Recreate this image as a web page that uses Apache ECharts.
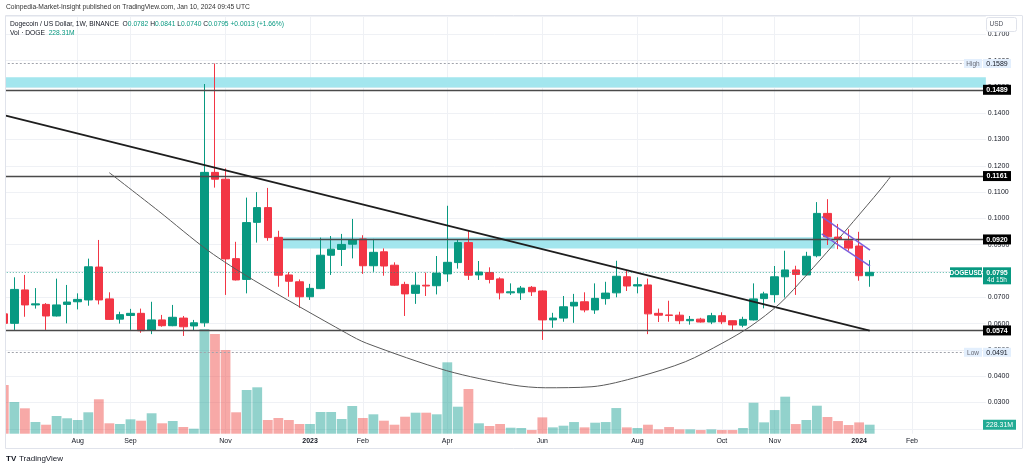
<!DOCTYPE html>
<html><head><meta charset="utf-8">
<script src="https://cdn.jsdelivr.net/npm/echarts@6/dist/echarts.min.js"></script>
<style>html,body{margin:0;padding:0;background:#fff}#c{width:1024px;height:469px}</style>
</head><body><div id="c"></div>
<script>
// ---------- DATA ----------
const weeks = ['2022-06-13','2022-06-20','2022-06-27','2022-07-04','2022-07-11','2022-07-18','2022-07-25','2022-08-01','2022-08-08','2022-08-15','2022-08-22','2022-08-29','2022-09-05','2022-09-12','2022-09-19','2022-09-26','2022-10-03','2022-10-10','2022-10-17','2022-10-24','2022-10-31','2022-11-07','2022-11-14','2022-11-21','2022-11-28','2022-12-05','2022-12-12','2022-12-19','2022-12-26','2023-01-02','2023-01-09','2023-01-16','2023-01-23','2023-01-30','2023-02-06','2023-02-13','2023-02-20','2023-02-27','2023-03-06','2023-03-13','2023-03-20','2023-03-27','2023-04-03','2023-04-10','2023-04-17','2023-04-24','2023-05-01','2023-05-08','2023-05-15','2023-05-22','2023-05-29','2023-06-05','2023-06-12','2023-06-19','2023-06-26','2023-07-03','2023-07-10','2023-07-17','2023-07-24','2023-07-31','2023-08-07','2023-08-14','2023-08-21','2023-08-28','2023-09-04','2023-09-11','2023-09-18','2023-09-25','2023-10-02','2023-10-09','2023-10-16','2023-10-23','2023-10-30','2023-11-06','2023-11-13','2023-11-20','2023-11-27','2023-12-04','2023-12-11','2023-12-18','2023-12-25','2024-01-01','2024-01-08','2024-01-15','2024-01-22','2024-01-29','2024-02-05','2024-02-12','2024-02-19','2024-02-26','2024-03-04','2024-03-11','2024-03-18','2024-03-25'];

const opens  = [0.0637,0.0601,0.0728,0.0671,0.0673,0.0629,0.0673,0.0683,0.0690,0.0815,0.0694,0.0617,0.0631,0.0639,0.0576,0.0614,0.0592,0.0621,0.0591,0.0603,0.1175,0.1149,0.0847,0.0768,0.0985,0.1041,0.0928,0.0785,0.0759,0.0702,0.0733,0.0860,0.0882,0.0902,0.0922,0.0820,0.0873,0.0822,0.0749,0.0715,0.0746,0.0744,0.0789,0.0832,0.0908,0.0785,0.0794,0.0770,0.0717,0.0717,0.0738,0.0724,0.0614,0.0621,0.0667,0.0683,0.0652,0.0695,0.0717,0.0778,0.0743,0.0747,0.0639,0.0633,0.0632,0.0611,0.0617,0.0606,0.0630,0.0611,0.0594,0.0614,0.0695,0.0710,0.0778,0.0804,0.0785,0.0858,0.1019,0.0929,0.0915,0.0895,0.0782];
const closes = [0.0601,0.0730,0.0671,0.0675,0.0629,0.0671,0.0682,0.0692,0.0816,0.0690,0.0616,0.0634,0.0639,0.0573,0.0614,0.0592,0.0624,0.0588,0.0603,0.1175,0.1149,0.0846,0.0766,0.0984,0.1041,0.0927,0.0784,0.0761,0.0702,0.0734,0.0860,0.0883,0.0901,0.0919,0.0820,0.0871,0.0819,0.0746,0.0713,0.0746,0.0743,0.0792,0.0833,0.0908,0.0784,0.0796,0.0768,0.0717,0.0721,0.0735,0.0721,0.0614,0.0621,0.0664,0.0681,0.0652,0.0696,0.0716,0.0780,0.0743,0.0748,0.0637,0.0632,0.0631,0.0611,0.0616,0.0606,0.0630,0.0607,0.0595,0.0616,0.0694,0.0713,0.0778,0.0804,0.0787,0.0856,0.1019,0.0930,0.0921,0.0887,0.0782,0.0795];
const lows   = [0.0491,0.0576,0.0626,0.0657,0.0576,0.0627,0.0601,0.0654,0.0668,0.0673,0.0614,0.0600,0.0576,0.0565,0.0560,0.0588,0.0590,0.0553,0.0573,0.0588,0.1117,0.0709,0.0764,0.0715,0.0908,0.0915,0.0740,0.0702,0.0660,0.0690,0.0731,0.0785,0.0819,0.0848,0.0789,0.0797,0.0782,0.0744,0.0629,0.0675,0.0705,0.0711,0.0759,0.0809,0.0766,0.0766,0.0753,0.0692,0.0709,0.0690,0.0705,0.0538,0.0584,0.0607,0.0603,0.0643,0.0637,0.0672,0.0700,0.0724,0.0715,0.0560,0.0606,0.0607,0.0598,0.0596,0.0604,0.0598,0.0598,0.0572,0.0586,0.0612,0.0658,0.0680,0.0699,0.0709,0.0783,0.0852,0.0899,0.0883,0.0877,0.0763,0.0740];
const highs  = [0.0680,0.0776,0.0785,0.0735,0.0678,0.0771,0.0747,0.0715,0.0847,0.0918,0.0719,0.0645,0.0656,0.0657,0.0683,0.0633,0.0671,0.0629,0.0614,0.1511,0.1589,0.1190,0.0911,0.1079,0.1100,0.1116,0.0953,0.0796,0.0768,0.0751,0.0927,0.0933,0.0941,0.0998,0.0936,0.0922,0.0886,0.0833,0.0759,0.0795,0.0794,0.0857,0.1048,0.0918,0.0953,0.0838,0.0814,0.0776,0.0753,0.0743,0.0743,0.0726,0.0641,0.0705,0.0713,0.0719,0.0753,0.0759,0.0839,0.0801,0.0776,0.0771,0.0657,0.0687,0.0645,0.0629,0.0622,0.0641,0.0643,0.0612,0.0626,0.0753,0.0721,0.0819,0.0877,0.0820,0.0873,0.1062,0.1073,0.0979,0.0959,0.0949,0.0841];
// weekly volume, millions of DOGE
const volumes = [1235,804,644,297,228,449,391,348,543,873,264,246,365,330,518,264,322,170,127,2656,2530,2123,543,1109,1177,348,398,348,246,246,551,551,373,703,398,492,330,228,431,533,533,492,1811,685,1134,264,195,246,152,144,93,414,161,203,296,161,279,296,651,161,144,228,110,169,110,110,93,110,93,93,144,786,288,600,939,245,347,710,423,321,220,287,228.31];

const tickDates = ['2022-08-01','2022-09-05','2022-11-07','2023-01-02','2023-02-06','2023-04-03','2023-06-05','2023-08-07','2023-10-02','2023-11-06','2024-01-01','2024-02-05'];
const tickTexts = ['Aug','Sep','Nov','2023','Feb','Apr','Jun','Aug','Oct','Nov','2024','Feb'];

// drawings (week index, price)
const levelLines = [0.1489, 0.1161, 0.0574];
const level092 = 0.0920;
const level092Start = 26.44;
const upperZone = [0.1498, 0.1537];
const midZone = [0.0886, 0.0928];
const midZoneSpan = [26.44, 78.7];
const trendline = [[0, 0.1393], [82, 0.0573]];
const arcPoints = [[9.99,0.1174],[14.63,0.1029],[19.37,0.0877],[23.63,0.0766],[32.47,0.0563],[34.37,0.0525],[41.94,0.0421],[48.13,0.0367],[51.28,0.0356],[55.70,0.0360],[60.12,0.0398],[64.54,0.0455],[68.01,0.0525],[70.66,0.0588],[73.51,0.0677],[76.03,0.0785],[78.55,0.0899],[80.45,0.0988],[82.98,0.1108],[84.02,0.1161]];
const flagUpper = [[77.45,0.10065],[82.03,0.08798]];
const flagLower = [[77.45,0.09407],[82.03,0.08190]];
const lastPrice = 0.0795, rangeHigh = 0.1589, rangeLow = 0.0491, lastVol = 228.31;

// ---------- CHART ----------
const FONT = 'Liberation Sans';
const UP = '#089981', DN = '#f23645';
const tickSet = new Set(tickDates.map(d => weeks.indexOf(d)));
const tickMap = {}; tickDates.forEach((d,i)=>tickMap[d]=tickTexts[i]);
const candleData = opens.map((o,i)=>[o, closes[i], lows[i], highs[i]]);
const volData = volumes.map((v,i)=>({value:v, itemStyle:{color: closes[i]>=opens[i] ? 'rgba(38,166,154,0.5)' : 'rgba(239,83,80,0.5)'}}));
const GRIDL = 3.78, GRIDR = 1024 - (3.78 + 93*10.56);
const CYAN = '#a3e6ee';

const option = {
  animation: false,
  textStyle: {fontFamily: FONT},
  grid: [
    {left: GRIDL, right: GRIDR, top: 16, bottom: 469-428.8, outerBoundsMode: 'none', containLabel: false},
    {left: GRIDL, right: GRIDR, top: 300, bottom: 469-433.7, outerBoundsMode: 'none', containLabel: false}
  ],
  xAxis: [
    {type:'category', gridIndex:0, data: weeks, boundaryGap:false, axisLine:{show:false}, axisTick:{show:false}, axisLabel:{show:false},
     splitLine:{show:true, interval:(i)=>tickSet.has(i), lineStyle:{color:'#eff1f5', width:1}}},
    {type:'category', gridIndex:1, data: weeks, boundaryGap:false, axisLine:{show:false}, axisTick:{show:false},
     axisLabel:{show:true, interval:(i)=>tickSet.has(i), margin:4, fontSize:7, color:'#131722', fontFamily:FONT,
       formatter:(v)=>{const t=tickMap[v]||''; return /^\d{4}$/.test(t) ? '{y|'+t+'}' : t;},
       rich:{y:{fontWeight:'bold', fontSize:7, color:'#131722', fontFamily:FONT}}},
     splitLine:{show:true, interval:(i)=>tickSet.has(i), lineStyle:{color:'#eff1f5', width:1}}},
    {type:'value', gridIndex:0, min:0, max:93, show:false}
  ],
  yAxis: [
    {type:'value', gridIndex:0, position:'right', min:0.02, max:0.176958, interval:0.01, axisLine:{show:false}, axisTick:{show:false},
     axisLabel:{margin:2, fontSize:7, color:'#131722', fontFamily:FONT,
       formatter:(v)=>{const k=v*100; return (Math.abs(k-Math.round(k))<1e-6 && v>0.025) ? v.toFixed(4) : '';}},
     splitLine:{show:true, lineStyle:{color:'#eff1f5', width:1}}},
    {type:'value', gridIndex:1, min:0, max:133.7*25.37, show:false, splitLine:{show:false}}
  ],
  series: [
    {type:'line', xAxisIndex:2, yAxisIndex:0, data:[], z:1, silent:true,
     markArea:{silent:true, itemStyle:{color:CYAN, opacity:1}, data:[
       [{yAxis:upperZone[1]},{yAxis:upperZone[0]}],
       [{coord:[midZoneSpan[0], midZone[1]]},{coord:[midZoneSpan[1], midZone[0]]}]
     ]}},
    {type:'bar', xAxisIndex:1, yAxisIndex:1, data: volData, barWidth:9.8, z:1, silent:true},
    {type:'candlestick', xAxisIndex:0, yAxisIndex:0, data:candleData, barWidth:8, z:3, silent:true,
     itemStyle:{color:UP, color0:DN, borderColor:UP, borderColor0:DN, borderWidth:1},
     markLine:{silent:true, symbol:'none', precision:6, label:{show:false}, data:[
       ...levelLines.map(v=>({yAxis:v, lineStyle:{color:'#4a4a4a', width:1.4, type:'solid'}})),
       {yAxis:rangeHigh, lineStyle:{color:'#a0a3ab', width:1, type:[2,2]}},
       {yAxis:rangeLow, lineStyle:{color:'#a0a3ab', width:1, type:[2,2]}},
       {yAxis:lastPrice, lineStyle:{color:UP, width:1, type:[1,2], opacity:0.7}}
     ]}},
    {type:'line', xAxisIndex:2, yAxisIndex:0, data:[[level092Start, level092],[93, level092]], symbol:'none', z:4, silent:true, lineStyle:{color:'#4a4a4a', width:1.4}},
    {type:'line', xAxisIndex:2, yAxisIndex:0, data:trendline, symbol:'none', z:5, silent:true, lineStyle:{color:'#1e1e1e', width:1.8}},
    {type:'line', xAxisIndex:2, yAxisIndex:0, data:arcPoints, symbol:'none', smooth:0.3, z:5, silent:true, lineStyle:{color:'#5a5a5a', width:1}},
    {type:'line', xAxisIndex:2, yAxisIndex:0, data:flagUpper, symbol:'none', z:5, silent:true, lineStyle:{color:'#7b5fdc', width:1.5}},
    {type:'line', xAxisIndex:2, yAxisIndex:0, data:flagLower, symbol:'none', z:5, silent:true, lineStyle:{color:'#7b5fdc', width:1.5}}
  ]
};

const chart = echarts.init(document.getElementById('c'));
chart.setOption(option);

const py = v => chart.convertToPixel({yAxisIndex:0}, v);
const pv = v => chart.convertToPixel({yAxisIndex:1}, v);
const g = [];
function rect(x,y,w,h,fill,stroke,r){ g.push({type:'rect', z:100, silent:true, shape:{x,y,width:w,height:h,r:r||0}, style:{fill, stroke:stroke||null, lineWidth:1}}); }
function txt(x,y,t,fill,font,align){ g.push({type:'text', z:101, silent:true, x, y, style:{text:t, fill, font, align:align||'center', verticalAlign:'middle'}}); }
const F = (s,b)=> (b?'bold ':'') + s + 'px "' + FONT + '"';

// frame, left mask
rect(0,16,5,440,'#ffffff');
g.push({type:'line', z:102, silent:true, shape:{x1:5.5,y1:15.5,x2:1022,y2:15.5}, style:{stroke:'#e0e3eb', lineWidth:1}});
g.push({type:'line', z:102, silent:true, shape:{x1:5.5,y1:15.5,x2:5.5,y2:448.5}, style:{stroke:'#e0e3eb', lineWidth:1}});
g.push({type:'line', z:102, silent:true, shape:{x1:5.5,y1:448.5,x2:1022,y2:448.5}, style:{stroke:'#e0e3eb', lineWidth:1}});
g.push({type:'line', z:102, silent:true, shape:{x1:1022.5,y1:15.5,x2:1022.5,y2:448.5}, style:{stroke:'#e0e3eb', lineWidth:1}});

// level labels
[...levelLines, level092].forEach(v=>{ const y=py(v); rect(983,y-5,28,10,'#000000'); txt(997,y+0.5,v.toFixed(4),'#ffffff',F(7,true)); });
// high / low
[[rangeHigh,'High'],[rangeLow,'Low']].forEach(([v,t])=>{ const y=py(v); rect(964,y-4.5,18,9,'#e3effd'); txt(973,y+0.5,t,'#6a6d78',F(6.5)); rect(983,y-4.5,28,9,'#e3effd'); txt(997,y+0.5,v.toFixed(4),'#131722',F(7)); });
// last price
{ const y=py(lastPrice); rect(950,y-5,32,10,UP); txt(966,y+0.5,'DOGEUSD','#ffffff',F(6.5,true)); rect(983,y-5,28,17,UP); txt(997,y+0.5,lastPrice.toFixed(4),'#ffffff',F(7,true)); txt(997,y+8,'4d 15h','#ffffff',F(6.5)); }
// volume label
{ const y=pv(lastVol); rect(983,y-5,33,10,'#22ab94'); txt(999.5,y+0.5,lastVol.toFixed(2)+'M','#ffffff',F(7)); }
// USD button
rect(986.5,17.5,30,14,'#ffffff','#e0e3eb',2); txt(989.5,24.5,'USD','#50535e',F(6.5),'left');

// header
txt(6,7,'Coinpedia-Market-Insight published on TradingView.com, Jan 10, 2024 09:45 UTC','#333333',F(6.7),'left');
g.push({type:'text', z:101, silent:true, x:10, y:24, style:{font:F(6.7), verticalAlign:'middle', align:'left',
  text:'{d|Dogecoin / US Dollar, 1W, BINANCE  O}{g|0.0782}{d| H}{g|0.0841}{d| L}{g|0.0740}{d| C}{g|0.0795}{g| +0.0013 (+1.66%)}',
  rich:{d:{fill:'#131722', font:F(6.7)}, g:{fill:UP, font:F(6.7)}}}});
g.push({type:'text', z:101, silent:true, x:10, y:33.5, style:{font:F(6.7), verticalAlign:'middle', align:'left',
  text:'{d|Vol · DOGE}{g|  228.31M}', rich:{d:{fill:'#131722', font:F(6.7)}, g:{fill:UP, font:F(6.7)}}}});
// footer logo
txt(6,459,'TV','#131722',F(8,true),'left');
txt(19,459,'TradingView','#131722',F(8),'left');

chart.setOption({graphic: g});
</script>
</body></html>
